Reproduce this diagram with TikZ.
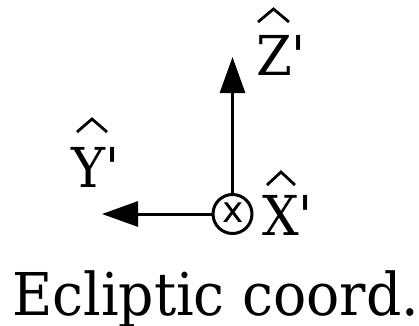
\documentclass[tikz,border=0pt]{standalone}
\usepackage{fontspec}
\setmainfont{DejaVu Serif Condensed}[FakeStretch=1.04]
\newfontfamily\crossfont{DejaVu Sans}
\usetikzlibrary{arrows.meta}
\begin{document}
\begin{tikzpicture}[x=1pt,y=-1pt,
  axis/.style={line width=3pt,-{Triangle[length=36pt,width=25pt]}},
  lab/.style={inner sep=0pt,anchor=base west,font=\fontsize{55}{60}\selectfont},
  hatstroke/.style={line width=2.8pt,line join=miter},
  title/.style={inner sep=0pt,anchor=base west,font=\fontsize{59}{64}\selectfont}]
\useasboundingbox (0,0) rectangle (419,325);
\node[draw,circle,line width=3pt,minimum size=39pt,inner sep=0pt] (o) at (232.5,214) {};
\node[inner sep=0pt,font=\crossfont\fontsize{36}{36}\selectfont] (xm) at (233,213) {x};
\coordinate (ztip) at (232.5,57);
\coordinate (ytip) at (102,214);
\draw[axis] (o.north) -- (ztip);
\draw[axis] (o.west) -- (ytip);
\node[lab] (zl) at (256,75) {Z\textquotesingle};
\draw[hatstroke] (258,22) -- (273.5,9) -- (289,22);
\node[lab] (yl) at (71,187) {Y\textquotesingle};
\draw[hatstroke] (77,132) -- (92,119) -- (107,132);
\node[lab] (xl) at (262,235) {X\textquotesingle};
\draw[hatstroke] (267,185) -- (281,172) -- (295,185);
\node[title] (t) at (12,315) {Ecliptic coord.};
\end{tikzpicture}
\end{document}
